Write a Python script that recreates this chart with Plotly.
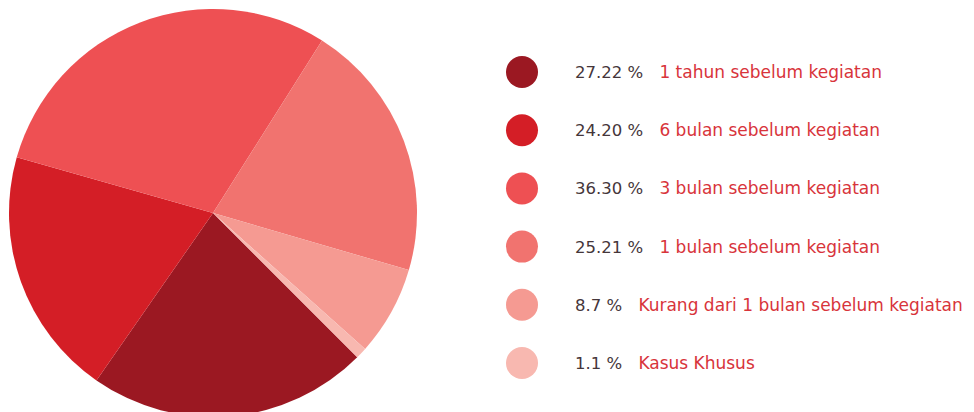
import plotly.graph_objects as go

percent_labels = ["27.22 %", "24.20 %", "36.30 %", "25.21 %", "8.7 %", "1.1 %"]
values = [27.22, 24.20, 36.30, 25.21, 8.7, 1.1]
categories = [
    "1 tahun sebelum kegiatan",
    "6 bulan sebelum kegiatan",
    "3 bulan sebelum kegiatan",
    "1 bulan sebelum kegiatan",
    "Kurang dari 1 bulan sebelum kegiatan",
    "Kasus Khusus",
]
colors = ["#9B1822", "#D41E26", "#EE5053", "#F1736F", "#F59A92", "#F8B8B0"]

W, H = 974, 412
OFF = 8  # page body margin offset

def px(x):
    return (x - OFF) / W

def py(y):
    return 1 - (y - OFF) / H

fig = go.Figure()
fig.add_trace(go.Pie(
    values=values,
    labels=categories,
    marker=dict(colors=colors, line=dict(width=0)),
    sort=False,
    direction="clockwise",
    rotation=135,
    textinfo="none",
    hoverinfo="label+value",
    showlegend=False,
    domain=dict(x=[px(9), px(417)], y=[py(417), py(9)]),
))

row_y0 = 72
row_step = 58.2
shapes = []
annotations = []
for i, (pl, cat, col) in enumerate(zip(percent_labels, categories, colors)):
    cy = row_y0 + i * row_step
    shapes.append(dict(
        type="circle", xref="paper", yref="paper",
        x0=px(522 - 16), x1=px(522 + 16),
        y0=py(cy + 16), y1=py(cy - 16),
        fillcolor=col, line=dict(width=0),
    ))
    annotations.append(dict(
        xref="paper", yref="paper", x=px(573), y=py(cy),
        xanchor="left", yanchor="middle", showarrow=False,
        text=(f"<span style='color:#45363A;font-size:16.5px'>{pl}</span>"
              f"&nbsp;&nbsp;&nbsp;<span style='color:#D8343B'>{cat}</span>"),
        font=dict(family="DejaVu Sans", size=17),
    ))

fig.update_layout(
    width=W, height=H,
    margin=dict(l=0, r=0, t=0, b=0),
    paper_bgcolor="white", plot_bgcolor="white",
    shapes=shapes, annotations=annotations,
)

fig.write_html("out.html")
